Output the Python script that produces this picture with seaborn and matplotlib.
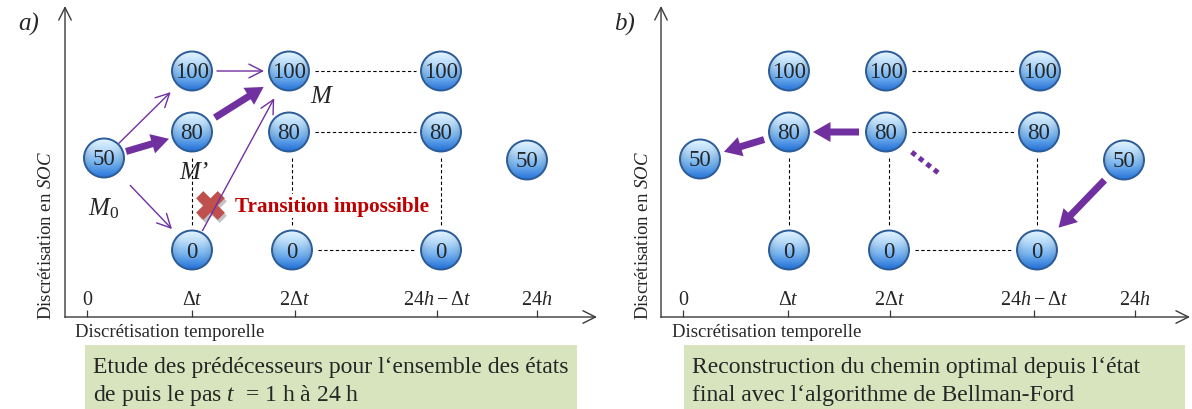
import numpy as np
import pandas as pd
import matplotlib
matplotlib.use('Agg')
import matplotlib.pyplot as plt
import seaborn as sns
from matplotlib.patches import Ellipse, FancyArrowPatch, Rectangle

sns.set_theme(style='white')
plt.rcParams['font.family'] = ['Liberation Serif', 'DejaVu Serif']
plt.rcParams['mathtext.fontset'] = 'custom'
plt.rcParams['mathtext.rm'] = 'Liberation Serif'
plt.rcParams['mathtext.it'] = 'Liberation Serif:italic'

# ---- data (diagram drawn in pixel units, y grows downward) ----
tick_labels = ['0', r'$\Delta t$', r'$2\Delta t$', r'$24h - \Delta t$', r'$24h$']
tick_x_a = [87, 192, 295, 437, 537]
tick_x_b = [683, 788, 890, 1034, 1135]

node_panel = ['a'] * 11 + ['b'] * 11
node_step = [0, 1, 1, 1, 2, 2, 2, 3, 3, 3, 4] * 2
node_soc = [50, 100, 80, 0, 100, 80, 0, 100, 80, 0, 50] * 2
node_x = [104, 192, 192, 192, 289, 289, 292, 441, 441, 441, 527,
          700, 789, 789, 789, 886, 886, 889, 1040, 1039, 1037, 1124]
node_y = [159, 72, 133, 251, 72, 133, 251, 72, 133, 251, 161,
          160, 72, 133, 251, 72, 133, 251, 72, 133, 251, 161]

# arrows: (panel, step_from, soc_from, step_to, soc_to, kind, gap_from, gap_to)
arrow_edges = [
    ('a', 0, 50, 1, 100, 'thin', 21, 30),
    ('a', 0, 50, 1, 80, 'thick', 23, 24),
    ('a', 0, 50, 1, 0, 'thin', 38, 29),
    ('a', 1, 100, 2, 100, 'thin', 25, 25),
    ('a', 1, 80, 2, 100, 'thick', 27, 30),
    ('a', 1, 0, 2, 100, 'thin', 22, 31),
    ('b', 1, 80, 0, 50, 'thick', 26, 25),
    ('b', 2, 80, 1, 80, 'thick', 27, 24),
    ('b', 4, 50, 3, 0, 'thick', 28, 31),
]
# dashed links between nodes
dashed_links = [(2, 100, 3, 100), (2, 80, 3, 80), (2, 0, 3, 0),
                (1, 80, 1, 0), (2, 80, 2, 0), (3, 80, 3, 0)]
dotted_b = ('b', 2, 80, 3, 0, 0.17, 0.36)

box_a = ['Etude des prédécesseurs pour l‘ensemble des états',
         'de puis le pas $t$  = 1 h à 24 h']
box_b = ['Reconstruction du chemin optimal depuis l‘état',
         'final avec l‘algorithme de Bellman-Ford']

nodes = pd.DataFrame({'panel': node_panel, 'step': node_step, 'soc': node_soc,
                      'x': node_x, 'y': node_y})

purple = '#7030a0'
axis_col = '#3a3a3a'
rx, ry = 20, 19.5


def pos(panel, step, soc):
    r = nodes[(nodes.panel == panel) & (nodes.step == step) & (nodes.soc == soc)].iloc[0]
    return np.array([r.x, r.y], dtype=float)


fig = plt.figure(figsize=(11.92, 4.10), dpi=100)
ax = fig.add_axes([0, 0, 1, 1])

# nodes: base disc via seaborn, gradient clipped on top
sns.scatterplot(data=nodes, x='x', y='y', s=(2 * rx * 0.72) ** 2, color='#4a90dd',
                edgecolor='none', legend=False, ax=ax, zorder=3)
ax.set_xlim(0, 1192)
ax.set_ylim(410, 0)
ax.axis('off')

# axes of both panels
for left, right, ticks, lab, tag in [(65, 597, tick_x_a, 'a)', 75), (661, 1190, tick_x_b, 'b)', 672)]:
    ax.add_patch(FancyArrowPatch((left, 318.5), (left, 7), arrowstyle='->,head_length=0.9,head_width=0.45',
                                 mutation_scale=10, lw=1.0, color=axis_col, shrinkA=0, shrinkB=0))
    ax.add_patch(FancyArrowPatch((left, 318), (right, 318), arrowstyle='->,head_length=0.9,head_width=0.45',
                                 mutation_scale=10, lw=1.0, color=axis_col, shrinkA=0, shrinkB=0))
    ax.vlines(ticks, 311, 318, color=axis_col, lw=0.9)
    for tx, tl in zip(ticks, tick_labels):
        ax.text(tx, 301, tl, ha='center', va='center', fontsize=14.5)
    ax.text(left - 47, 24, lab, fontsize=18, style='italic', ha='left', va='center')
    ax.text(left - 18, 236, 'Discrétisation en $SOC$', rotation=90, ha='center', va='center', fontsize=13.5)
    ax.text(tag, 333, 'Discrétisation temporelle', ha='left', va='center', fontsize=13.5)

# dashed links
for p in ['a', 'b']:
    for s0, c0, s1, c1 in dashed_links:
        a, b = pos(p, s0, c0), pos(p, s1, c1)
        if s0 == s1:
            a[0] = b[0]
        u = (b - a) / np.linalg.norm(b - a)
        a, b = a + u * 26, b - u * 25
        ax.plot([a[0], b[0]], [a[1], b[1]], color='black', lw=0.8, ls=(0, (3, 2.2)), zorder=1)

t = np.linspace(0, 1, 64)[:, None]
xx = np.linspace(-1, 1, 64)[None, :]
stops_t = [0.0, 0.3, 0.6, 1.0]
stops_c = np.array([[0.90, 0.96, 1.0], [0.72, 0.86, 0.98], [0.48, 0.72, 0.95], [0.14, 0.44, 0.84]])
grad = np.stack([np.interp(t[:, 0], stops_t, stops_c[:, k]) for k in range(3)], axis=1)
grad = np.repeat(grad[:, None, :], 64, axis=1)
grad = grad * (1 - 0.15 * xx[..., None] ** 4)
grad = np.clip(grad, 0, 1)

for _, r in nodes.iterrows():
    clip = Ellipse((r.x, r.y), 2 * rx, 2 * ry, transform=ax.transData)
    im = ax.imshow(grad, extent=(r.x - rx, r.x + rx, r.y + ry, r.y - ry), origin='upper',
                   aspect='auto', zorder=4, interpolation='bilinear')
    im.set_clip_path(clip)
    ax.add_patch(Ellipse((r.x, r.y), 2 * rx, 2 * ry, fill=False, ec='#2c5c98', lw=1.4, zorder=5))
    ax.text(r.x, r.y + 1, str(r.soc), ha='center', va='center', fontsize=16.5, zorder=6)
ax.set_xlim(0, 1192)
ax.set_ylim(410, 0)
ax.set_aspect('auto')

# impossible transition marker
ax.scatter([212], [209], marker='X', s=430, color='#7a7a7a', alpha=0.45, linewidths=0, zorder=6)
ax.scatter([210], [206], marker='X', s=430, color='#c0504d', linewidths=0, zorder=6)

# arrows
for p, s0, c0, s1, c1, kind, g0, g1 in arrow_edges:
    a, b = pos(p, s0, c0), pos(p, s1, c1)
    u = (b - a) / np.linalg.norm(b - a)
    a, b = a + u * g0, b - u * g1
    if kind == 'thick':
        st = 'simple,head_length=1.05,head_width=1.2,tail_width=0.42'
        arr = FancyArrowPatch(tuple(a), tuple(b), arrowstyle=st, mutation_scale=12,
                              color=purple, lw=0, shrinkA=0, shrinkB=0, zorder=7)
    else:
        st = '->,head_length=0.75,head_width=0.38'
        arr = FancyArrowPatch(tuple(a), tuple(b), arrowstyle=st, mutation_scale=13,
                              color=purple, lw=1.0, shrinkA=0, shrinkB=0, zorder=7)
    ax.add_patch(arr)

p, s0, c0, s1, c1, f0, f1 = dotted_b
a, b = pos(p, s0, c0), pos(p, s1, c1)
q0, q1 = a + (b - a) * f0, a + (b - a) * f1
ax.plot([q0[0], q1[0]], [q0[1], q1[1]], color=purple, lw=3.6, ls=(0, (1, 0.9)),
        solid_capstyle='butt', dash_capstyle='butt', zorder=7)

# labels in panel a
ax.text(321, 97, 'M', style='italic', fontsize=18, ha='center', va='center', zorder=8)
ax.text(194, 173, 'M’', style='italic', fontsize=18, ha='center', va='center', zorder=8)
ax.text(104, 209, r'$M_{\mathit{0}}$', fontsize=18, ha='center', va='center', zorder=8)
ax.text(235, 207, 'Transition impossible', fontsize=15.3, fontweight='bold', color='#c00000',
        ha='left', va='center', zorder=8,
        bbox=dict(fc='white', ec='none', pad=1.5))

# green caption boxes
for x0, w, lines in [(85, 492, box_a), (684, 501, box_b)]:
    ax.add_patch(Rectangle((x0, 346), w, 64, fc='#d7e4bd', ec='none', zorder=1))
    ax.text(x0 + 8, 368, lines[0], fontsize=17, ha='left', va='center', zorder=2)
    ax.text(x0 + 8, 396, lines[1], fontsize=17, ha='left', va='center', zorder=2)

fig.savefig('out.png', dpi=100)
